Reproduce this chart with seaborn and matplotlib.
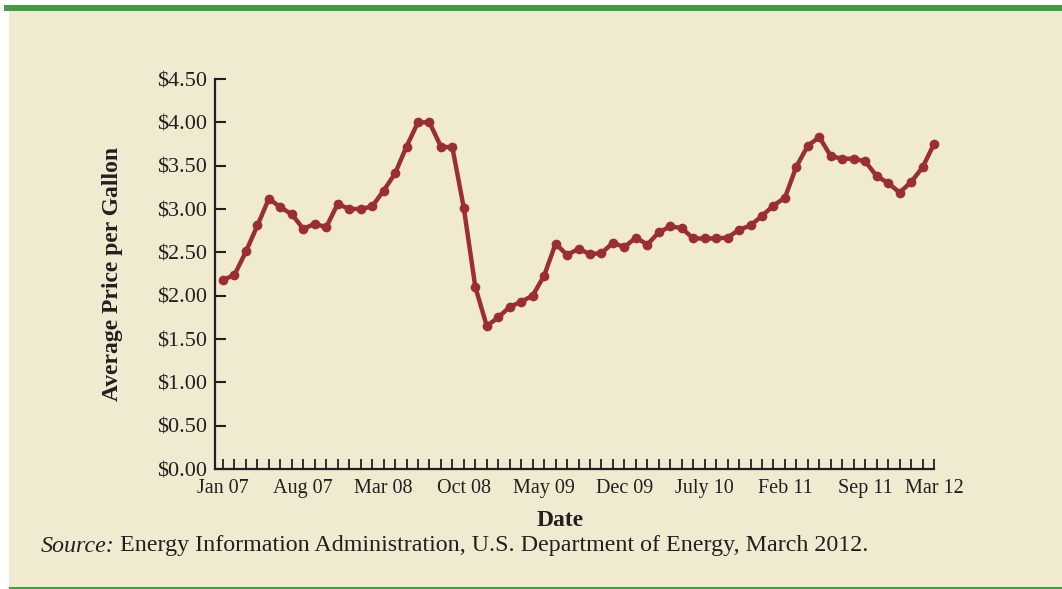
import numpy as np
import pandas as pd
import seaborn as sns
import matplotlib.pyplot as plt
from matplotlib.patches import Rectangle

# monthly average gas price, Jan 2007 - Mar 2012
prices = [2.18, 2.24, 2.51, 2.81, 3.12, 3.02, 2.94, 2.77, 2.83, 2.79, 3.06, 3.00,
          3.00, 3.03, 3.21, 3.41, 3.72, 4.00, 4.00, 3.72, 3.71, 3.01, 2.10, 1.65,
          1.75, 1.87, 1.93, 2.00, 2.23, 2.60, 2.47, 2.54, 2.48, 2.49, 2.61, 2.56,
          2.67, 2.59, 2.73, 2.80, 2.78, 2.66, 2.66, 2.66, 2.67, 2.76, 2.81, 2.92,
          3.04, 3.13, 3.49, 3.73, 3.83, 3.61, 3.58, 3.58, 3.55, 3.38, 3.30, 3.19,
          3.31, 3.48, 3.75]
label_months = [0, 7, 14, 21, 28, 35, 42, 49, 56, 62]
label_text = ['Jan 07', 'Aug 07', 'Mar 08', 'Oct 08', 'May 09', 'Dec 09',
              'July 10', 'Feb 11', 'Sep 11', 'Mar 12']
y_ticks = [0, 0.5, 1, 1.5, 2, 2.5, 3, 3.5, 4, 4.5]

CREAM = '#F0EAD0'
GREEN = '#3F9E3F'
RED = '#9A2E33'
INK = '#231F20'

sns.set_style('white')
plt.rcParams['font.family'] = ['Liberation Serif', 'DejaVu Serif']

df = pd.DataFrame({'month': np.arange(len(prices)), 'price': prices})

fig = plt.figure(figsize=(10.62, 5.89), dpi=100)
fig.patch.set_facecolor('white')
W, H = 1062, 589
# cream panel and green rules
fig.add_artist(Rectangle((9 / W, 2 / H), 1, 576 / H, transform=fig.transFigure,
                         facecolor=CREAM, edgecolor='none', zorder=0))
fig.add_artist(Rectangle((4 / W, 1 - 11 / H), 1, 6 / H, transform=fig.transFigure,
                         facecolor=GREEN, edgecolor='none', zorder=1))
fig.add_artist(Rectangle((9 / W, 0), 1, 2.5 / H, transform=fig.transFigure,
                         facecolor=GREEN, edgecolor='none', zorder=1))

ax = fig.add_axes([215 / W, 1 - 469 / H, (934 - 215) / W, (469 - 79) / H])
ax.set_facecolor('none')

sns.lineplot(data=df, x='month', y='price', ax=ax, color=RED, linewidth=3.2,
             marker='o', markersize=7, markeredgewidth=0, clip_on=False)

ax.set_xlim(-0.7, len(prices) - 1)
ax.set_ylim(0, 4.5)

ax.set_xticks(np.arange(len(prices)))
xt = [''] * len(prices)
for m, t in zip(label_months, label_text):
    xt[m] = t
ax.set_xticklabels(xt)
ax.set_yticks(y_ticks)
ax.set_yticklabels(['${:.2f}'.format(v) for v in y_ticks])

ax.tick_params(axis='x', bottom=True, direction='in', length=7, width=1.3,
               color=INK, labelsize=14.5, labelcolor=INK, pad=7)
ax.tick_params(axis='y', left=True, direction='in', length=8, width=1.5,
               color=INK, labelsize=16, labelcolor=INK, pad=6)

for side in ['top', 'right']:
    ax.spines[side].set_visible(False)
for side in ['left', 'bottom']:
    ax.spines[side].set_color(INK)
    ax.spines[side].set_linewidth(1.6)

ax.set_xlabel('')
ax.set_ylabel('Average Price per Gallon', fontsize=17, fontweight='bold',
              color=INK)
ax.yaxis.set_label_coords((123 - 215) / 719, 0.5)

fig.text(560 / W, 1 - 521 / H, 'Date', fontsize=17, fontweight='bold',
         color=INK, ha='center', va='center')

src = fig.text(41 / W, 1 - 546 / H, 'Source:', fontsize=17.3, style='italic',
               color=INK, ha='left', va='center')
fig.canvas.draw()
bb = src.get_window_extent(fig.canvas.get_renderer())
fig.text(bb.x1 / W + 5 / W, 1 - 546 / H,
         'Energy Information Administration, U.S. Department of Energy, March 2012.',
         fontsize=17.3, color=INK, ha='left', va='center')

fig.savefig('out.png', dpi=100)
